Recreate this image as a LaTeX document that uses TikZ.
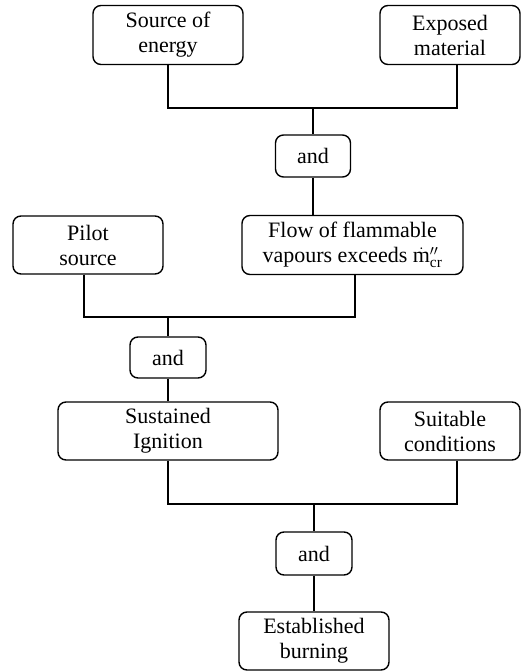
\documentclass[tikz,border=0pt]{standalone}
\usepackage{fontspec}
\setmainfont{Liberation Serif}
\setmathrm{Liberation Serif}
\begin{document}
\begin{tikzpicture}[x=1pt,y=-1pt,
  box/.style={draw,line width=1.4pt,rounded corners=8pt,align=center,inner sep=0pt,
    font=\fontsize{22}{25}\selectfont},
  conn/.style={line width=1.9pt}]
\useasboundingbox (0,0) rectangle (521,672);
\node[box,minimum width=150pt,minimum height=59pt] (src) at (168,35) {Source of\\energy};
\node[box,minimum width=140pt,minimum height=59pt] (exp) at (450,35) {Exposed\\material};
\node[box,minimum width=75pt,minimum height=42pt] (and1) at (313,156) {and};
\node[box,minimum width=150pt,minimum height=58pt] (pil) at (88,245) {Pilot\\source};
\node[box,minimum width=221pt,minimum height=59pt] (flow) at (352.5,245) {Flow of flammable\\vapours exceeds $\dot{\mathrm{m}}''_{\mathrm{cr}}$};
\node[box,minimum width=76pt,minimum height=41pt] (and2) at (168,357.5) {and};
\node[box,minimum width=220pt,minimum height=58pt] (sus) at (168,431) {Sustained\\Ignition};
\node[box,minimum width=140pt,minimum height=58pt] (sui) at (450,431) {Suitable\\conditions};
\node[box,minimum width=76pt,minimum height=43pt] (and3) at (314,553.5) {and};
\node[box,minimum width=150pt,minimum height=58pt] (est) at (314,641) {Established\\burning};
\coordinate (j1) at (313,108);
\coordinate (j2) at (168,317);
\coordinate (j3) at (314,504);
\draw[conn] (src.south) |- (j1);
\draw[conn] ([xshift=7pt]exp.south) |- (j1);
\draw[conn] (j1) -- (and1.north);
\draw[conn] (and1.south) -- (flow.north -| and1.south);
\draw[conn] ([xshift=-4pt]pil.south) |- (j2);
\draw[conn] ([xshift=2.5pt]flow.south) |- (j2);
\draw[conn] (j2) -- (and2.north);
\draw[conn] (and2.south) -- (sus.north);
\draw[conn] (sus.south) |- (j3);
\draw[conn] ([xshift=7pt]sui.south) |- (j3);
\draw[conn] (j3) -- (and3.north);
\draw[conn] (and3.south) -- (est.north);
\end{tikzpicture}
\end{document}
